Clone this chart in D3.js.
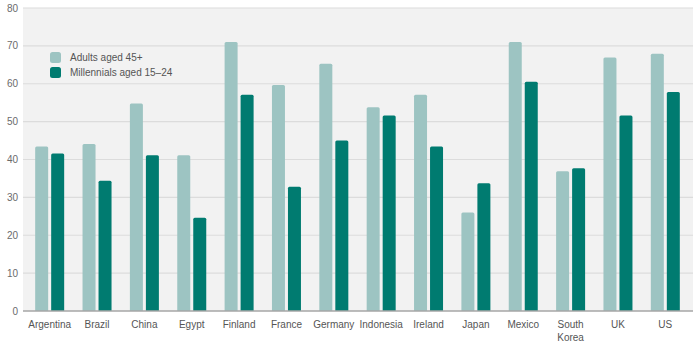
<!DOCTYPE html>
<html>
<head>
<meta charset="utf-8">
<script src="https://cdn.jsdelivr.net/npm/d3@7/dist/d3.min.js"></script>
<style>
  html, body { margin: 0; padding: 0; background: #fff; }
  svg { display: block; font-family: "Liberation Sans", Arial, sans-serif; }
</style>
</head>
<body>
<svg id="chart" width="698" height="343"></svg>
<script>
// Share of respondents by country, two age groups
const countries = ["Argentina", "Brazil", "China", "Egypt", "Finland", "France", "Germany",
  "Indonesia", "Ireland", "Japan", "Mexico", "South Korea", "UK", "US"];
const adults45 = [43.4, 44.1, 54.8, 41.1, 71.0, 59.7, 65.3, 53.8, 57.1, 26.0, 71.0, 36.9, 66.9, 67.9];
const millennials = [41.6, 34.4, 41.1, 24.6, 57.1, 32.8, 45.0, 51.6, 43.4, 33.7, 60.5, 37.7, 51.6, 57.8];
const seriesNames = ["Adults aged 45+", "Millennials aged 15\u201324"];
const yTicks = [0, 10, 20, 30, 40, 50, 60, 70, 80];

const colors = ["#9dc4c2", "#007b70"];
const svg = d3.select("#chart");

const plot = { left: 23, right: 693, top: 8, bottom: 311 };

const y = d3.scaleLinear().domain([0, 80]).range([plot.bottom, plot.top]);
const x = d3.scaleBand().domain(countries).range([26, 689]).paddingInner(0).paddingOuter(0);
const bw = 13, gap = 3;

// panel background
svg.append("rect")
  .attr("x", plot.left).attr("y", plot.top)
  .attr("width", plot.right - plot.left).attr("height", plot.bottom - plot.top)
  .attr("fill", "#f2f2f2");

// gridlines
svg.append("g").selectAll("line")
  .data(yTicks.filter(d => d > 0))
  .join("line")
  .attr("x1", plot.left).attr("x2", plot.right)
  .attr("y1", d => y(d)).attr("y2", d => y(d))
  .attr("stroke", "#dcdcdc").attr("stroke-width", 1.2);

// y tick labels
svg.append("g").selectAll("text")
  .data(yTicks)
  .join("text")
  .attr("x", 18).attr("y", d => y(d))
  .attr("dy", "0.35em")
  .attr("text-anchor", "end")
  .attr("font-size", 10)
  .attr("fill", "#6b6b6b")
  .text(d => d);

// bars with slightly rounded tops
function barPath(x0, w, yTop, yBase, r) {
  r = Math.min(r, (yBase - yTop));
  return `M${x0},${yBase}V${yTop + r}Q${x0},${yTop} ${x0 + r},${yTop}H${x0 + w - r}Q${x0 + w},${yTop} ${x0 + w},${yTop + r}V${yBase}Z`;
}

const groups = svg.append("g").selectAll("g")
  .data(countries.map((c, i) => ({ c, vals: [adults45[i], millennials[i]] })))
  .join("g");

groups.selectAll("path")
  .data(d => d.vals.map((v, k) => ({ c: d.c, v, k })))
  .join("path")
  .attr("d", d => {
    const cx = x(d.c) + x.bandwidth() / 2;
    const x0 = d.k === 0 ? cx - gap / 2 - bw : cx + gap / 2;
    return barPath(x0, bw, y(d.v), plot.bottom, 1.5);
  })
  .attr("fill", d => colors[d.k]);

// baseline
svg.append("line")
  .attr("x1", plot.left).attr("x2", plot.right)
  .attr("y1", plot.bottom).attr("y2", plot.bottom)
  .attr("stroke", "#a6a6a6").attr("stroke-width", 1.5);

// category labels
const xl = svg.append("g").selectAll("text")
  .data(countries)
  .join("text")
  .attr("x", d => x(d) + x.bandwidth() / 2)
  .attr("y", 328)
  .attr("text-anchor", "middle")
  .attr("font-size", 10)
  .attr("fill", "#555");
xl.each(function(d) {
  const words = d === "South Korea" ? ["South", "Korea"] : [d];
  d3.select(this).selectAll("tspan")
    .data(words)
    .join("tspan")
    .attr("x", x(d) + x.bandwidth() / 2)
    .attr("dy", (w, i) => i === 0 ? 0 : 13)
    .text(w => w);
});

// legend
const lg = svg.append("g").attr("transform", "translate(50,52)");
seriesNames.forEach((name, i) => {
  lg.append("rect")
    .attr("x", 0).attr("y", i * 15)
    .attr("width", 11).attr("height", 11)
    .attr("rx", 2.5)
    .attr("fill", colors[i]);
  lg.append("text")
    .attr("x", 20).attr("y", i * 15 + 5.5)
    .attr("dy", "0.35em")
    .attr("font-size", 10)
    .attr("fill", "#555")
    .text(name);
});
</script>
</body>
</html>
